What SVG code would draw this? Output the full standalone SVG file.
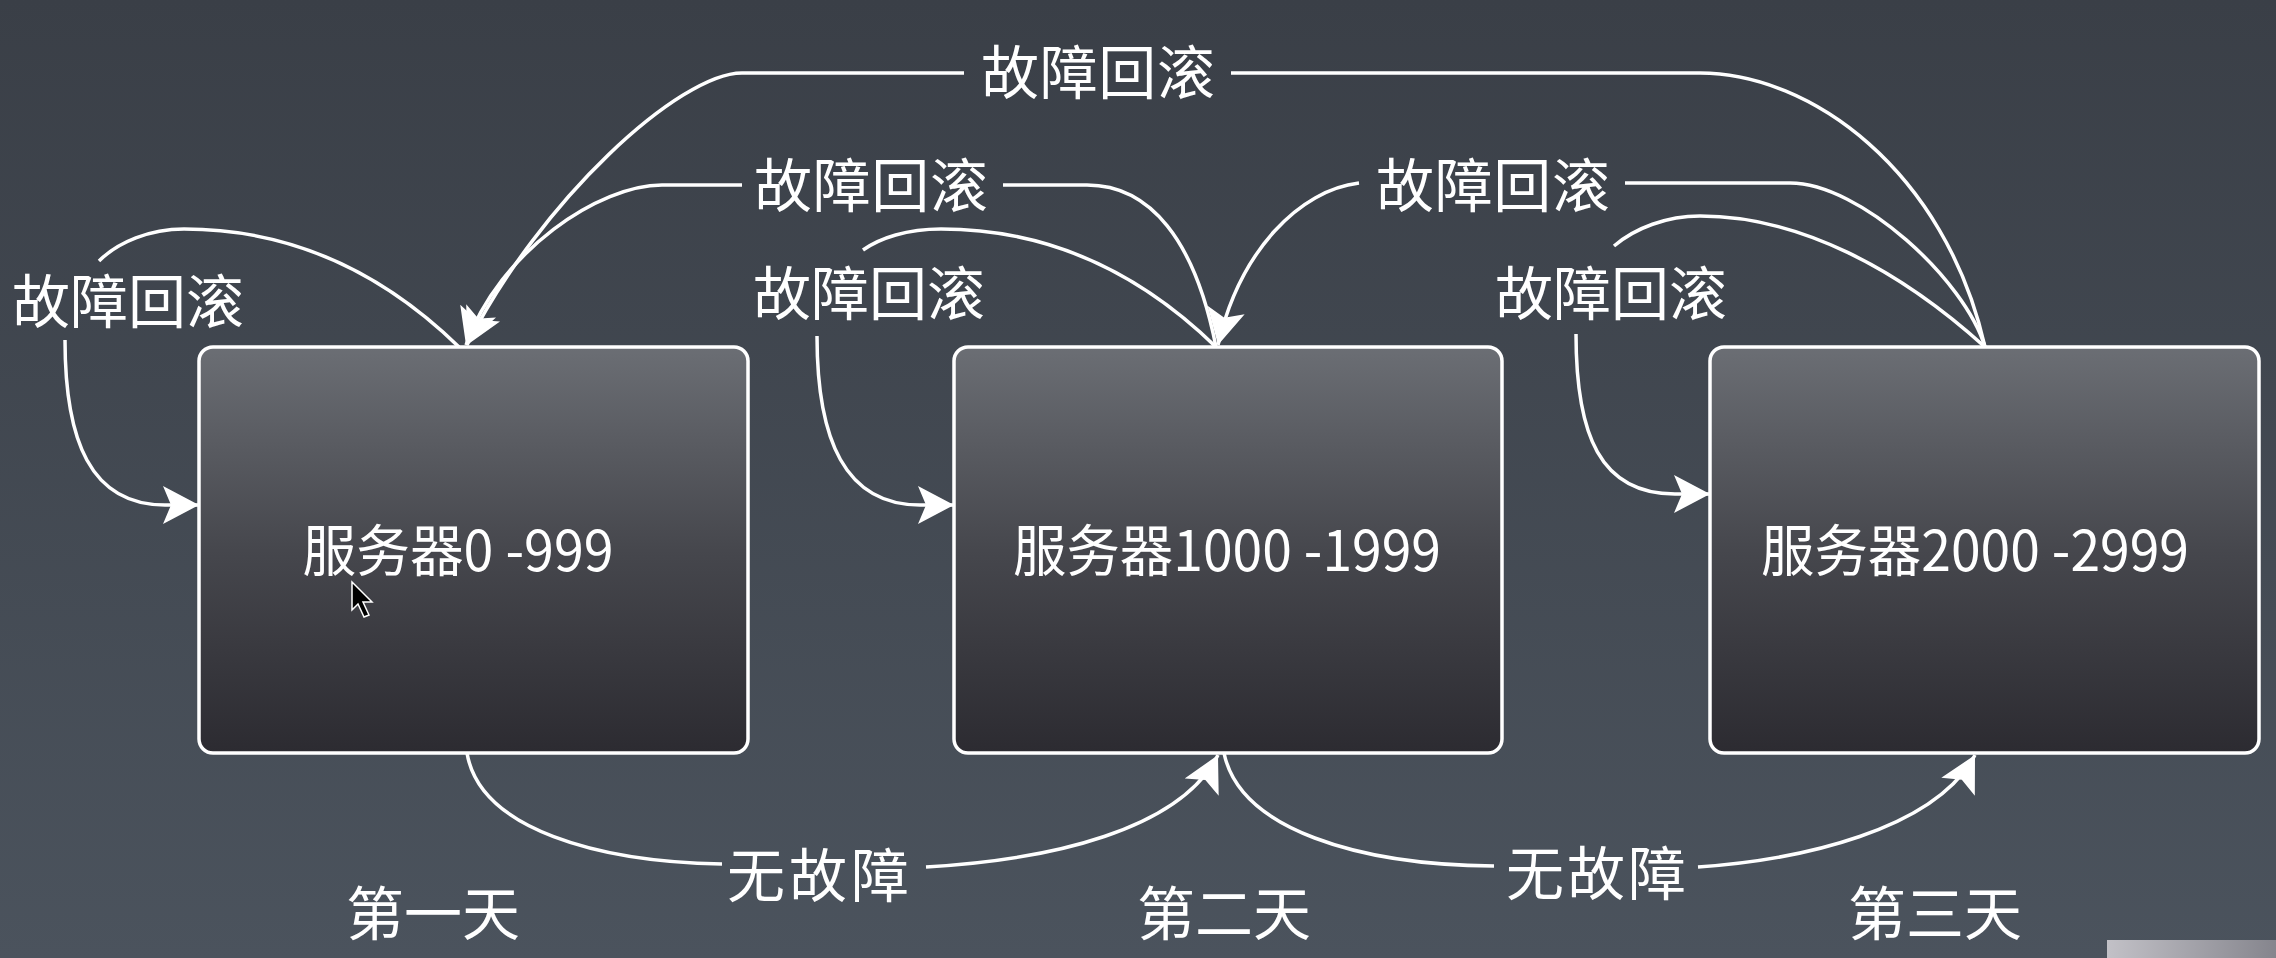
<svg xmlns="http://www.w3.org/2000/svg" width="2276" height="958" viewBox="0 0 2276 958">
<defs>
<linearGradient id="bg" x1="0" y1="0" x2="0" y2="1">
<stop offset="0" stop-color="#3a3f47"/>
<stop offset="1" stop-color="#4b535d"/>
</linearGradient>
<linearGradient id="boxg" x1="0" y1="0" x2="0" y2="1">
<stop offset="0" stop-color="#6b6e74"/>
<stop offset="0.5" stop-color="#46474d"/>
<stop offset="1" stop-color="#2c2b31"/>
</linearGradient>
<linearGradient id="corner" x1="0" y1="0" x2="1" y2="0">
<stop offset="0" stop-color="#c2c1c7"/>
<stop offset="1" stop-color="#85858d"/>
</linearGradient>
<marker id="arr" markerUnits="userSpaceOnUse" markerWidth="38" markerHeight="40" refX="36" refY="19" orient="auto" viewBox="0 0 38 40">
<path d="M0,0 L36,19 L0,38 L8,19 Z" fill="#ffffff"/>
</marker>
<style>
.box{fill:url(#boxg);stroke:#ffffff;stroke-width:3.5}
.t{font-family:"Noto Sans CJK SC","Noto Sans",sans-serif;fill:#ffffff;text-anchor:middle;dominant-baseline:central}
.bt{font-size:56px}
.lb{font-size:58px}
.c{fill:none;stroke:#ffffff;stroke-width:3.5}
.ca{fill:none;stroke:#ffffff;stroke-width:3.5;marker-end:url(#arr)}
</style>
</defs>
<rect x="0" y="0" width="2276" height="958" fill="url(#bg)"/>
<rect x="2107" y="940" width="169" height="18" fill="url(#corner)"/>

<g id="connectors">
<!-- box1 self loop -->
<path class="c" d="M459 347 C380 270 290 229 184 229 C150 229 118 242 99 261"/>
<path class="ca" d="M65 340 C65 440 90 505 165 505 L199 505"/>
<!-- box2 self loop -->
<path class="c" d="M1216 347 C1137 270 1047 229 941 229 C907 229 880 238 863 250"/>
<path class="ca" d="M817 336 C817 440 845 505 920 505 L954 505"/>
<!-- box3 self loop -->
<path class="c" d="M1985 347 C1900 270 1800 216 1700 216 C1667 216 1635 228 1614 246"/>
<path class="ca" d="M1576 334 C1576 435 1600 494 1675 494 L1710 494"/>
<!-- box2 -> box1 -->
<path class="c" d="M1216 347 C1195 240 1150 185 1087 185 L1003 185"/>
<path class="ca" d="M742 185 L662 185 C600 185 500 250 466 345"/>
<!-- box3 -> box1 -->
<path class="c" d="M1985 347 C1945 170 1810 73 1700 73 L1231 73"/>
<path class="ca" d="M964 73 L742 73 C680 73 540 200 467 345"/>
<!-- box3 -> box2 -->
<path class="c" d="M1985 347 C1965 280 1860 183 1790 183 L1625 183"/>
<path class="ca" d="M1359 183 C1300 190 1240 250 1218 345"/>
<!-- box1 -> box2 no fault -->
<path class="c" d="M467 753 C480 830 600 862 722 864"/>
<path class="ca" d="M926 867 C1050 860 1180 830 1218 755"/>
<!-- box2 -> box3 no fault -->
<path class="c" d="M1224 753 C1240 830 1360 865 1494 866"/>
<path class="ca" d="M1698 867 C1800 860 1935 830 1975 755"/>
</g>

<g id="node-s0">
<rect class="box" x="199" y="347" width="549" height="406" rx="14"/>
<text class="t bt" x="458" y="546" textLength="311" lengthAdjust="spacingAndGlyphs">服务器0 -999</text>
</g>
<g id="node-s1">
<rect class="box" x="954" y="347" width="548" height="406" rx="14"/>
<text class="t bt" x="1227" y="546" textLength="428" lengthAdjust="spacingAndGlyphs">服务器1000 -1999</text>
</g>
<g id="node-s2">
<rect class="box" x="1710" y="347" width="549" height="406" rx="14"/>
<text class="t bt" x="1975" y="546" textLength="428" lengthAdjust="spacingAndGlyphs">服务器2000 -2999</text>
</g>

<g id="labels">
<text class="t lb" x="1098" y="69" textLength="234">故障回滚</text>
<text class="t lb" x="871" y="182" textLength="234">故障回滚</text>
<text class="t lb" x="1493" y="182" textLength="234">故障回滚</text>
<text class="t lb" x="128" y="298" textLength="232">故障回滚</text>
<text class="t lb" x="869" y="290" textLength="232">故障回滚</text>
<text class="t lb" x="1611" y="290" textLength="232">故障回滚</text>
<text class="t lb" x="818" y="872" textLength="182">无故障</text>
<text class="t lb" x="1596" y="870" textLength="180">无故障</text>
<text class="t lb" x="433" y="910" textLength="174">第一天</text>
<text class="t lb" x="1224" y="910" textLength="174">第二天</text>
<text class="t lb" x="1935" y="910" textLength="174">第三天</text>
</g>

<g id="cursor">
<polygon points="352,582 352,610 358,604 364,617 369,615 363,602 372,602" fill="#000000" stroke="#ffffff" stroke-width="1.5"/>
</g>
</svg>
